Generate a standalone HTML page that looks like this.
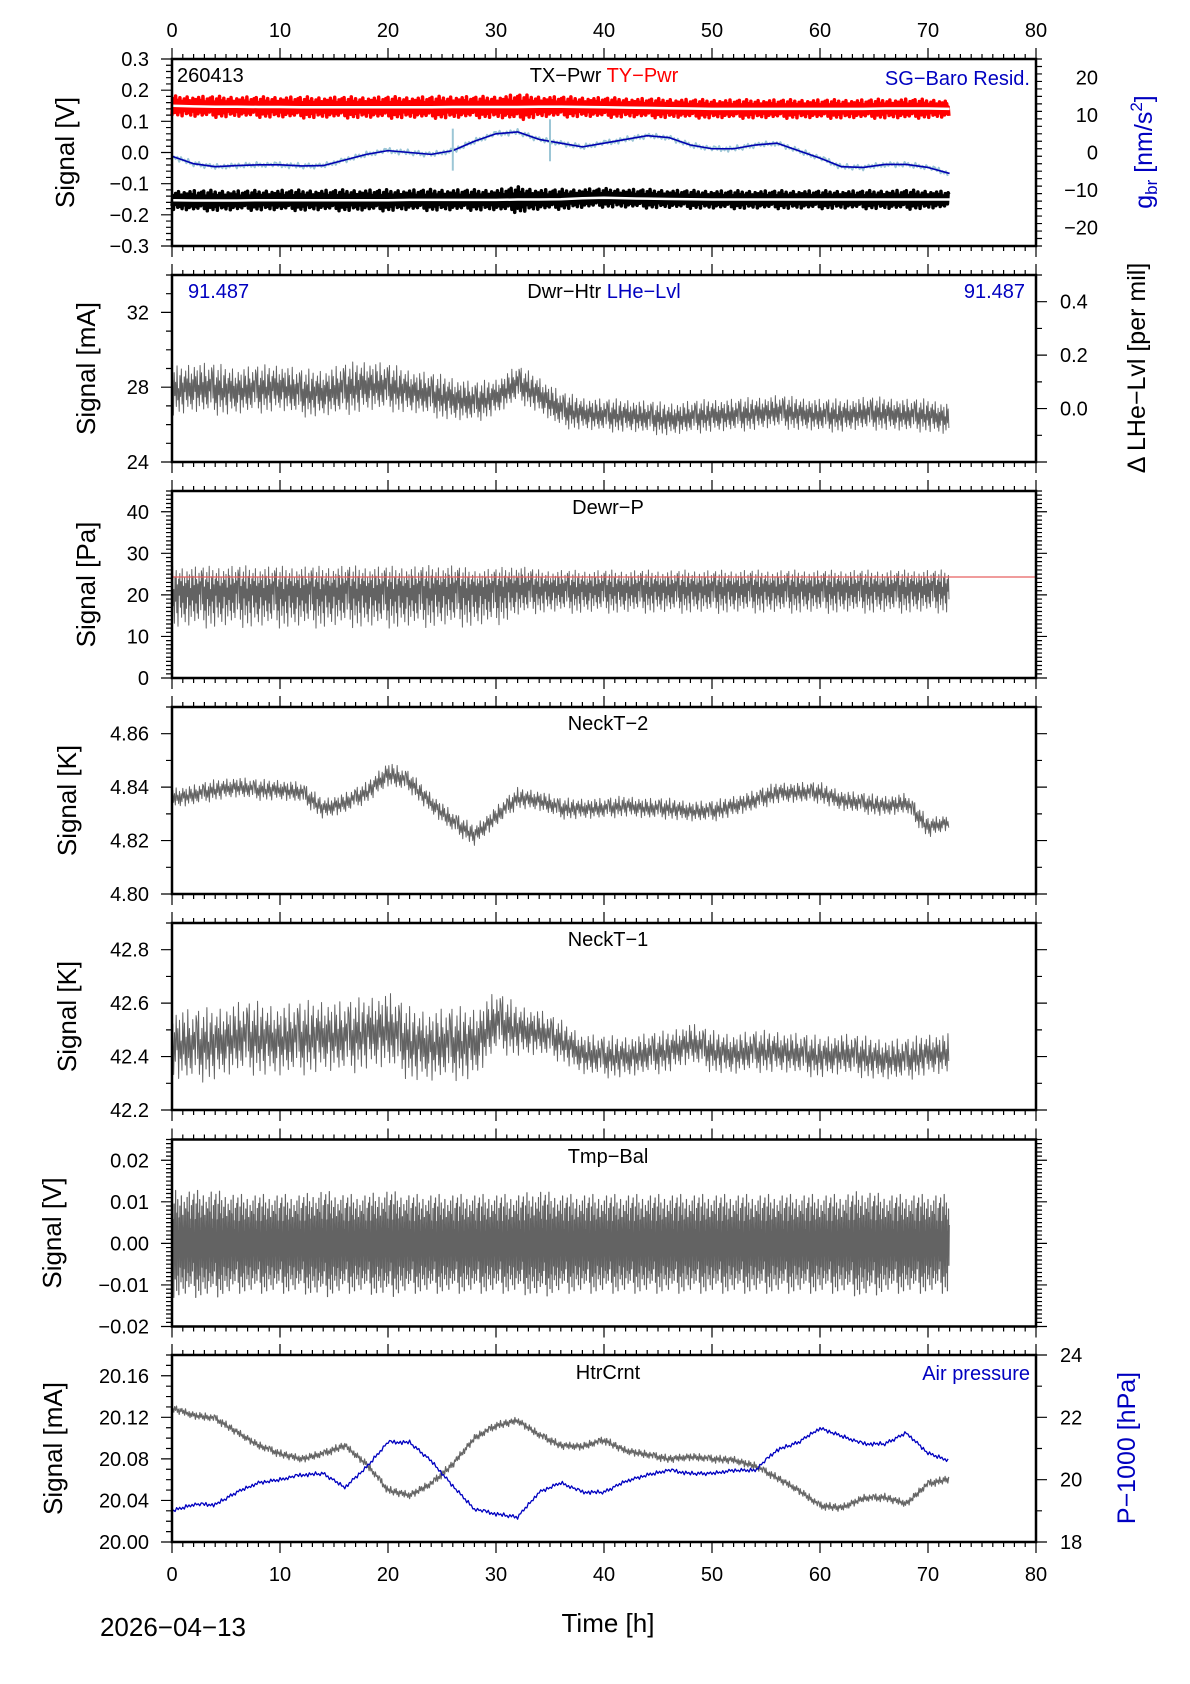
<!DOCTYPE html>
<html><head><meta charset="utf-8">
<style>
html,body{margin:0;padding:0;background:#fff;}
svg{display:block;font-family:"Liberation Sans",Arial,sans-serif;}
</style></head>
<body>
<svg id="chart" width="1190" height="1684" viewBox="0 0 1190 1684" xmlns="http://www.w3.org/2000/svg"></svg>
<script>
// ---- data (values per 2 h, hours 0..72) ----
const hours = [0,2,4,6,8,10,12,14,16,18,20,22,24,26,28,30,32,34,36,38,40,42,44,46,48,50,52,54,56,58,60,62,64,66,68,70,72];
const xTickLabels = ["0","10","20","30","40","50","60","70","80"];
// Panel 1
const tyPwrCenter = [0.150,0.148,0.147,0.147,0.146,0.146,0.145,0.145,0.145,0.145,0.145,0.145,0.145,0.146,0.146,0.146,0.146,0.147,0.147,0.146,0.145,0.144,0.143,0.142,0.141,0.140,0.140,0.140,0.140,0.140,0.140,0.140,0.140,0.141,0.141,0.141,0.140];
const tyPwrAmp = [0.032,0.034,0.034,0.033,0.033,0.034,0.034,0.034,0.034,0.034,0.035,0.034,0.035,0.036,0.034,0.035,0.042,0.034,0.033,0.032,0.032,0.031,0.031,0.031,0.030,0.030,0.030,0.030,0.030,0.030,0.030,0.030,0.030,0.031,0.032,0.030,0.028];
const txPwrCenter = [-0.153,-0.154,-0.154,-0.154,-0.153,-0.153,-0.153,-0.153,-0.153,-0.153,-0.153,-0.152,-0.152,-0.152,-0.152,-0.152,-0.151,-0.151,-0.150,-0.147,-0.145,-0.147,-0.148,-0.149,-0.150,-0.151,-0.151,-0.151,-0.151,-0.151,-0.151,-0.151,-0.151,-0.151,-0.151,-0.151,-0.151];
const txPwrAmp = [0.031,0.033,0.033,0.032,0.032,0.033,0.033,0.033,0.034,0.034,0.034,0.033,0.034,0.034,0.033,0.034,0.042,0.033,0.032,0.031,0.030,0.030,0.030,0.029,0.029,0.029,0.029,0.029,0.029,0.029,0.029,0.029,0.029,0.030,0.031,0.029,0.027];
const sgBaro = [-1,-3,-3.8,-3.5,-3.3,-3.3,-3.6,-3.5,-2,-0.5,0.5,0,-0.5,0.5,3,5,5.5,3.5,2.5,1.5,2.5,3.5,4.5,4,2,1,1,2,2.5,0.5,-1.5,-3.8,-4,-3.2,-3.2,-4,-5.6];
// Panel 2
const dwrHtrCenter = [27.8,28.0,27.9,27.8,27.9,28.0,27.7,27.7,27.9,28.1,28.0,27.8,27.6,27.4,27.2,27.5,28.2,27.6,26.8,26.6,26.5,26.5,26.4,26.3,26.4,26.5,26.5,26.6,26.7,26.6,26.5,26.5,26.6,26.6,26.5,26.5,26.3];
const dwrHtrAmp = [1.3,1.4,1.4,1.3,1.3,1.3,1.3,1.3,1.4,1.4,1.3,1.2,1.2,1.2,1.1,1.0,1.0,1.0,1.0,0.9,0.9,0.9,0.9,0.9,0.9,0.9,0.9,0.9,0.9,0.9,0.9,0.9,0.9,0.9,0.9,0.9,0.9];
// Panel 3
const dewrPCenter = [21,21,21,21.2,21,21,21,21,21.2,21,21,21,21.2,21.3,21.2,21.5,21.8,21.6,21.6,21.5,21.6,21.5,21.6,21.5,21.6,21.5,21.6,21.6,21.5,21.6,21.5,21.6,21.6,21.5,21.6,21.6,21.6];
const dewrPUp = [6,6,6,6,6,6,6,6,6,6,6,6,6,6,5,5,5.5,4.5,4.5,4.5,4.5,4.5,4.5,4.5,4.5,4.5,4.5,4.5,4.5,4.5,4.5,4.5,4.5,4.5,4.5,4.5,4.5];
const dewrPDown = [9,9,9,9,9,9,9,9,9,9,9,9,9,9,9,9,7,6,6,6,6,6,6,6,6,6,6,6,6,6,6,6,6,6,6,6,6];
const dewrPRef = 24.3;
// Panel 4
const neckT2 = [4.836,4.837,4.839,4.840,4.839,4.839,4.838,4.832,4.834,4.838,4.845,4.842,4.834,4.827,4.822,4.829,4.836,4.835,4.832,4.832,4.832,4.833,4.832,4.832,4.831,4.831,4.833,4.835,4.838,4.838,4.838,4.835,4.834,4.833,4.834,4.825,4.827];
const neckT2Amp = [0.004,0.004,0.004,0.004,0.004,0.004,0.004,0.004,0.004,0.004,0.005,0.004,0.004,0.004,0.004,0.004,0.004,0.004,0.004,0.004,0.004,0.004,0.004,0.004,0.004,0.004,0.004,0.004,0.004,0.004,0.004,0.004,0.004,0.004,0.004,0.004,0.003];
// Panel 5
const neckT1 = [42.45,42.44,42.45,42.47,42.47,42.46,42.47,42.48,42.47,42.49,42.50,42.45,42.44,42.45,42.45,42.53,42.50,42.49,42.46,42.41,42.40,42.40,42.41,42.42,42.45,42.42,42.41,42.42,42.42,42.41,42.40,42.41,42.40,42.39,42.39,42.41,42.41];
const neckT1Amp = [0.14,0.14,0.14,0.14,0.14,0.14,0.14,0.14,0.14,0.14,0.15,0.14,0.14,0.14,0.14,0.12,0.10,0.09,0.08,0.08,0.08,0.08,0.08,0.08,0.08,0.08,0.08,0.08,0.08,0.08,0.08,0.08,0.08,0.08,0.08,0.08,0.08];
// Panel 6
const tmpBal = [0,0,0,0,0,0,0,0,0,0,0,0,0,0,0,0,0,0,0,0,0,0,0,0,0,0,0,0,0,0,0,0,0,0,0,0,0];
const tmpBalAmp = [0.013,0.013,0.013,0.012,0.012,0.012,0.012,0.013,0.012,0.012,0.013,0.012,0.012,0.012,0.012,0.012,0.012,0.013,0.012,0.012,0.012,0.012,0.012,0.012,0.012,0.012,0.012,0.012,0.012,0.012,0.012,0.012,0.013,0.012,0.012,0.012,0.012];
// Panel 7
const htrCrnt = [20.129,20.122,20.119,20.106,20.093,20.085,20.080,20.085,20.093,20.075,20.050,20.045,20.056,20.075,20.100,20.112,20.117,20.103,20.093,20.092,20.098,20.088,20.084,20.080,20.082,20.080,20.079,20.073,20.062,20.050,20.035,20.033,20.042,20.043,20.037,20.056,20.061];
const airPressure = [19.0,19.2,19.2,19.6,19.9,20.0,20.15,20.2,19.75,20.4,21.2,21.2,20.6,19.8,19.05,18.9,18.8,19.6,19.9,19.6,19.6,19.95,20.15,20.3,20.2,20.2,20.3,20.3,20.95,21.2,21.65,21.4,21.15,21.15,21.5,20.85,20.6];
// rendering texture (jitter pattern, not data)
const texture = [0.62,-0.35,0.91,-0.78,0.15,-0.52,0.44,-1.0,0.73,-0.21,0.33,-0.66,0.98,-0.4,0.05,-0.87,0.56,-0.28,0.81,-0.59,0.24,-0.95,0.47,-0.12,0.69,-0.44,0.37,-0.71,0.88,-0.31,0.18,-0.62,0.52,-0.83,0.29,-0.47,0.76,-0.16,0.41,-0.92,0.64,-0.38,0.09,-0.69,0.85,-0.25,0.58,-0.54,0.21,-0.8,0.95,-0.33,0.45,-0.6,0.27,-0.74,0.7,-0.09,0.36,-0.51,0.8];

// ---- layout ----
const NS = "http://www.w3.org/2000/svg";
const svg = document.getElementById("chart");
const X0 = 172, X1 = 1036, PH = 187;
const tops = [59, 275, 491, 707, 923, 1139.5, 1355];
function xs(h){ return X0 + h*(X1-X0)/80; }
function mk(tag, attrs, parent){
  const e = document.createElementNS(NS, tag);
  for (const k in attrs) e.setAttribute(k, attrs[k]);
  (parent||svg).appendChild(e);
  return e;
}
function fmtNum(v, d){ let s = Math.abs(v) < 1e-9 ? (0).toFixed(d) : v.toFixed(d); return s.replace("-", "\u2212"); }

const panels = [
 {name:"pwr-panel", min:-0.3, max:0.3, major:0.1, minor:0.02, dec:1, title:"Signal [V]", tx:65,
  right:{min:-25,max:25,major:10,minor:2,dec:0,from:-20,to:20,align:"end",lx:1098}},
 {name:"dwr-htr-panel", min:24, max:34, major:4, minor:1, dec:0, title:"Signal [mA]", tx:86, majFrom:24, majTo:32,
  right:{min:-0.2,max:0.5,major:0.2,minor:0.1,dec:1,from:0,to:0.4,align:"start",lx:1060}},
 {name:"dewr-p-panel", min:0, max:45, major:10, minor:1, dec:0, title:"Signal [Pa]", tx:86, majTo:40},
 {name:"neck-t2-panel", min:4.80, max:4.87, major:0.02, minor:0.01, dec:2, title:"Signal [K]", tx:67, majTo:4.86},
 {name:"neck-t1-panel", min:42.2, max:42.9, major:0.2, minor:0.1, dec:1, title:"Signal [K]", tx:67, majTo:42.8},
 {name:"tmp-bal-panel", min:-0.02, max:0.025, major:0.01, minor:0.001, dec:2, title:"Signal [V]", tx:52, majTo:0.02},
 {name:"htr-crnt-panel", min:20.0, max:20.18, major:0.04, minor:0.01, dec:2, title:"Signal [mA]", tx:53, majTo:20.16,
  right:{min:18,max:24,major:2,minor:1,dec:0,from:18,to:24,align:"start",lx:1060}}
];

function ys(p, i, v){ const t = tops[i]; return t + PH - (v - p.min)/(p.max - p.min)*PH; }
function ysR(p, i, v){ const t = tops[i]; const r = p.right; return t + PH - (v - r.min)/(r.max - r.min)*PH; }

function noisy(g, i, yfn, center, up, down, color, sub, width, name, offset){
  let d = ""; let k = offset || 0;
  for (let j = 0; j < hours.length - 1; j++){
    for (let s = 0; s < sub; s++){
      const f = s/sub;
      const h = hours[j] + f*(hours[j+1]-hours[j]);
      const c = center[j] + f*(center[j+1]-center[j]);
      const u = up[j] + f*(up[j+1]-up[j]);
      const dn = down[j] + f*(down[j+1]-down[j]);
      const t = texture[k % texture.length]; k++;
      const v = t >= 0 ? c + u*t : c + dn*t;
      d += (d ? "L" : "M") + xs(h).toFixed(2) + " " + yfn(v).toFixed(2);
    }
  }
  const e = mk("path", {d:d, fill:"none", stroke:color, "stroke-width":width, "stroke-linejoin":"round"}, g);
  
  
  return e;
}
function smooth(g, yfn, vals, color, width, name){
  let d = "";
  hours.forEach((h, j) => { d += (j ? "L" : "M") + xs(h).toFixed(2) + " " + yfn(vals[j]).toFixed(2); });
  const e = mk("path", {d:d, fill:"none", stroke:color, "stroke-width":width, "stroke-linejoin":"round"}, g);
  
  
  return e;
}
function text(g, x, y, str, opts){
  const e = mk("text", Object.assign({x:x, y:y, "font-size":20, fill:"#000"}, opts||{}), g);
  e.textContent = str;
  return e;
}

panels.forEach((p, i) => {
  const top = tops[i], bot = top + PH;
  const g = mk("g", {});
  
  
  const yfn = v => ys(p, i, v);

  if (i === 0){
    const yr = v => ysR(p, i, v);
    const lb = sgBaro.map(() => 0.8);
    noisy(g, i, yr, sgBaro, lb, lb, "#9cc6d6", 12, 2, "sg-baro-raw", 3);
    smooth(g, yr, sgBaro, "#0000b0", 1.6, "sg-baro-resid-line");
    noisy(g, i, yfn, tyPwrCenter, tyPwrAmp, tyPwrAmp, "#ff0000", 30, 3.5, "ty-pwr-trace", 7);
    smooth(g, yfn, tyPwrCenter, "#ffffff", 2.5, "ty-pwr-mean");
    noisy(g, i, yfn, txPwrCenter, txPwrAmp, txPwrAmp, "#000000", 30, 3.5, "tx-pwr-trace", 19);
    smooth(g, yfn, txPwrCenter, "#ffffff", 2.5, "tx-pwr-mean");
    [26, 35].forEach(h => {
      const v = sgBaro[hours.indexOf(h)] !== undefined ? sgBaro[hours.indexOf(h)] : 3;
      const s = mk("line", {x1:xs(h), x2:xs(h), y1:ysR(p,i,v)-22, y2:ysR(p,i,v)+20, stroke:"#9cc6d6", "stroke-width":2}, g);
      
      
    });
  } else if (i === 1){
    noisy(g, i, yfn, dwrHtrCenter, dwrHtrAmp, dwrHtrAmp, "#636363", 30, 1, "dwr-htr-trace", 5);
  } else if (i === 2){
    noisy(g, i, yfn, dewrPCenter, dewrPUp, dewrPDown, "#636363", 36, 1, "dewr-p-trace", 11);
    const rl = mk("line", {x1:X0, x2:X1, y1:yfn(dewrPRef), y2:yfn(dewrPRef), stroke:"#e86060", "stroke-width":1.2}, g);
    
    
  } else if (i === 3){
    noisy(g, i, yfn, neckT2, neckT2Amp, neckT2Amp, "#636363", 26, 1, "neck-t2-trace", 23);
  } else if (i === 4){
    noisy(g, i, yfn, neckT1, neckT1Amp, neckT1Amp, "#636363", 26, 1, "neck-t1-trace", 31);
  } else if (i === 5){
    noisy(g, i, yfn, tmpBal, tmpBalAmp, tmpBalAmp, "#636363", 60, 1.2, "tmp-bal-trace", 2);
  } else if (i === 6){
    const ga = htrCrnt.map(() => 0.004);
    noisy(g, i, yfn, htrCrnt, ga, ga, "#666666", 24, 1.2, "htr-crnt-trace", 13);
    const yr = v => ysR(p, i, v);
    const pa = airPressure.map(() => 0.07);
    noisy(g, i, yr, airPressure, pa, pa, "#0000c0", 14, 1.3, "air-pressure-line", 41);
  }

  const fr = mk("rect", {x:X0, y:top, width:X1-X0, height:PH, fill:"none", stroke:"#000", "stroke-width":2.5}, g);
  
  

  let xd = "";
  for (let h = 0; h <= 80; h += 1){
    const L = (h % 10 === 0) ? 11 : 5;
    const x = xs(h).toFixed(2);
    xd += `M${x} ${top}V${top-L}M${x} ${bot}V${bot+L}`;
  }
  const xt = mk("path", {d:xd, stroke:"#000", "stroke-width":1.2, fill:"none"}, g);
  
  

  let yd = "";
  const nMin = Math.round((p.max - p.min)/p.minor);
  for (let k = 0; k <= nMin; k++){
    const v = p.min + k*p.minor;
    const isMaj = Math.abs(v/p.major - Math.round(v/p.major)) < 1e-6;
    const L = isMaj ? 11 : 6;
    const y = yfn(v).toFixed(2);
    yd += `M${X0} ${y}H${X0-L}`;
    if (!p.right) yd += `M${X1} ${y}H${X1+L}`;
  }
  const yt = mk("path", {d:yd, stroke:"#000", "stroke-width":1.2, fill:"none"}, g);
  
  

  const from = p.majFrom !== undefined ? p.majFrom : p.min;
  const to = p.majTo !== undefined ? p.majTo : p.max;
  for (let v = from; v <= to + 1e-9; v += p.major){
    const t = text(g, 149, yfn(v) + 7, fmtNum(v, p.dec), {"text-anchor":"end"});
    
    
  }
  const yl = text(g, 0, 0, p.title, {"text-anchor":"middle", "font-size":26, transform:`translate(${p.tx + 9},${top + PH/2}) rotate(-90)`});
  
  

  if (p.right){
    const r = p.right;
    let rd = "";
    const n = Math.round((r.max - r.min)/r.minor);
    for (let k = 0; k <= n; k++){
      const v = r.min + k*r.minor;
      const isMaj = Math.abs(v/r.major - Math.round(v/r.major)) < 1e-6;
      const y = ysR(p, i, v).toFixed(2);
      rd += `M${X1} ${y}H${X1 + (isMaj ? 11 : 6)}`;
    }
    const rt = mk("path", {d:rd, stroke:"#000", "stroke-width":1.2, fill:"none"}, g);
    
    
    for (let v = r.from; v <= r.to + 1e-9; v += r.major){
      const t = text(g, r.lx, ysR(p, i, v) + 7, fmtNum(v, r.dec), {"text-anchor":r.align});
      
      
    }
  }
});

xTickLabels.forEach((lab, j) => {
  const h = j*10;
  const t1 = text(svg, xs(h), 37, lab, {"text-anchor":"middle"});
  
  
  const t2 = text(svg, xs(h), 1581, lab, {"text-anchor":"middle"});
  
  
});

function ann(x, y, str, name, opts){
  const t = text(svg, x, y, str, opts);
  
  
  return t;
}
ann(177, 82, "260413", "station-id-label");
const pw = ann(604, 82, "", "pwr-title", {"text-anchor":"middle"});
const ts1 = mk("tspan", {fill:"#000"}, pw); ts1.textContent = "TX\u2212Pwr ";


const ts2 = mk("tspan", {fill:"#ff0000"}, pw); ts2.textContent = "TY\u2212Pwr";


ann(1030, 85, "SG\u2212Baro Resid.", "sg-baro-legend", {"text-anchor":"end", fill:"#0000c0"});
const gbr = ann(0, 0, "", "right-y-axis-title-gbr", {"text-anchor":"middle", "font-size":25, fill:"#0000c0", transform:"translate(1152,152) rotate(-90)"});
const g1 = mk("tspan", {}, gbr); g1.textContent = "g";


const g2 = mk("tspan", {"font-size":17, dy:5}, gbr); g2.textContent = "br";


const g3 = mk("tspan", {dy:-5}, gbr); g3.textContent = " [nm/s";


const g4 = mk("tspan", {"font-size":17, dy:-10}, gbr); g4.textContent = "2";


const g5 = mk("tspan", {dy:10}, gbr); g5.textContent = "]";



ann(188, 298, "91.487", "lhe-level-start-value", {fill:"#0000c0"});
ann(1025, 298, "91.487", "lhe-level-end-value", {"text-anchor":"end", fill:"#0000c0"});
const dh = ann(604, 298, "", "dwr-htr-title", {"text-anchor":"middle"});
const d1 = mk("tspan", {}, dh); d1.textContent = "Dwr\u2212Htr  ";


const d2 = mk("tspan", {fill:"#0000c0"}, dh); d2.textContent = "LHe\u2212Lvl";


ann(0, 0, "\u0394 LHe\u2212Lvl [per mil]", "right-y-axis-title-lhe", {"text-anchor":"middle", "font-size":25, transform:"translate(1145,368) rotate(-90)"});

ann(608, 514, "Dewr\u2212P", "dewr-p-title", {"text-anchor":"middle"});
ann(608, 730, "NeckT\u22122", "neck-t2-title", {"text-anchor":"middle"});
ann(608, 946, "NeckT\u22121", "neck-t1-title", {"text-anchor":"middle"});
ann(608, 1163, "Tmp\u2212Bal", "tmp-bal-title", {"text-anchor":"middle"});
ann(608, 1379, "HtrCrnt", "htr-crnt-title", {"text-anchor":"middle"});
ann(1030, 1380, "Air pressure", "air-pressure-legend", {"text-anchor":"end", fill:"#0000c0"});
ann(0, 0, "P\u22121000 [hPa]", "right-y-axis-title-pressure", {"text-anchor":"middle", "font-size":25, fill:"#0000c0", transform:"translate(1135,1448) rotate(-90)"});

ann(608, 1632, "Time [h]", "x-axis-title", {"text-anchor":"middle", "font-size":26});
ann(173, 1636, "2026\u221204\u221213", "date-label", {"text-anchor":"middle", "font-size":26});
</script>
</body></html>
